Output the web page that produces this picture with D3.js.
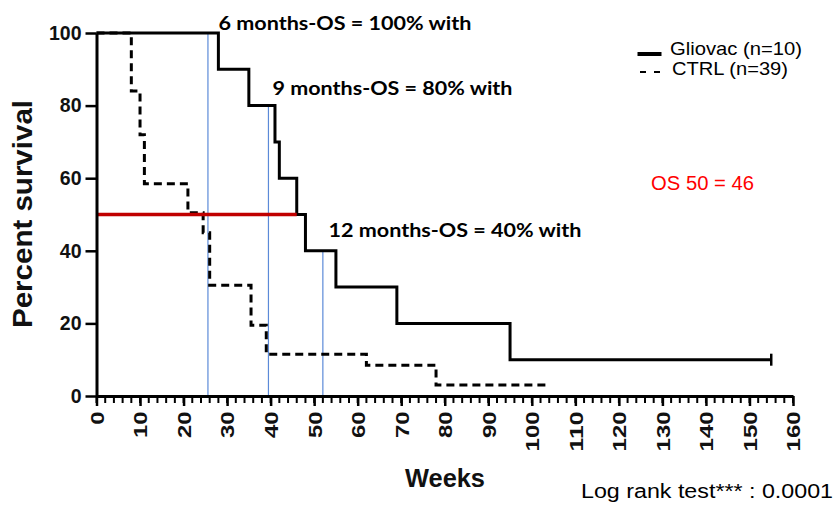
<!DOCTYPE html>
<html>
<head>
<meta charset="utf-8">
<script src="https://cdn.jsdelivr.net/npm/d3@7"></script>
<style>
  html, body { margin: 0; padding: 0; background: #fff; }
  svg { display: block; }
</style>
</head>
<body>
<svg id="chart" width="839" height="510"></svg>
<script>
// ---- data ----
const gliovacWeeks = [0, 28, 35, 41, 42, 46, 48, 55, 69, 95, 155];
const gliovacSurv  = [100, 90, 80, 70, 60, 50, 40, 30, 20, 10, 10];
const ctrlWeeks = [0, 8, 10, 11, 21, 24.5, 26, 35.5, 39, 62, 78, 104];
const ctrlSurv  = [100, 84, 72, 58.5, 50.5, 45, 30.5, 19.5, 11.5, 8.5, 3, 3];
const milestoneWeeks = [25.6, 39.5, 52];
const milestoneSurv  = [100, 80, 40];
const milestoneLabels = ["6 months-OS = 100% with", "9 months-OS = 80% with", "12 months-OS = 40% with"];
const medianWeek = 46;
const medianSurv = 50;
const yTicks = [0, 20, 40, 60, 80, 100];
const xTicks = d3.range(0, 161, 10);
const xMinorTicks = d3.range(0, 161, 2);
const legendLabels = ["Gliovac (n=10)", "CTRL (n=39)"];

// ---- drawing ----
const svg = d3.select("#chart");
const x = d3.scaleLinear().domain([0, 160]).range([96.5, 793]);
const y = d3.scaleLinear().domain([0, 100]).range([396, 33]);
const axisFont = "'Liberation Sans', Arial, sans-serif";

// blue milestone lines
svg.append("g").selectAll("line").data(milestoneWeeks).join("line")
  .attr("x1", d => x(d)).attr("x2", d => x(d))
  .attr("y1", (d, i) => y(milestoneSurv[i])).attr("y2", y(0))
  .attr("stroke", "#5b8ad8").attr("stroke-width", 1.2);

// curves
const line = d3.line().x(d => x(d[0])).y(d => y(d[1])).curve(d3.curveStepAfter);
svg.append("path")
  .datum(ctrlWeeks.map((w, i) => [w, ctrlSurv[i]]))
  .attr("d", line).attr("fill", "none").attr("stroke", "#000")
  .attr("stroke-width", 3).attr("stroke-dasharray", "8,5");
svg.append("path")
  .datum(gliovacWeeks.map((w, i) => [w, gliovacSurv[i]]))
  .attr("d", line).attr("fill", "none").attr("stroke", "#000")
  .attr("stroke-width", 3);
// censor tick
const lastW = gliovacWeeks[gliovacWeeks.length - 1];
const lastS = gliovacSurv[gliovacSurv.length - 1];
svg.append("line")
  .attr("x1", x(lastW)).attr("x2", x(lastW))
  .attr("y1", y(lastS) - 6).attr("y2", y(lastS) + 6)
  .attr("stroke", "#000").attr("stroke-width", 2.5);

// median red line
svg.append("line")
  .attr("x1", x(0)).attr("x2", x(medianWeek))
  .attr("y1", y(medianSurv)).attr("y2", y(medianSurv))
  .attr("stroke", "#c00000").attr("stroke-width", 3.4);

// y axis
const gy = svg.append("g").attr("transform", `translate(${x(0)},0)`)
  .call(d3.axisLeft(y).tickValues(yTicks).tickSize(11).tickSizeOuter(0).tickPadding(4));
gy.select(".domain").attr("stroke-width", 3).attr("stroke", "#000");
gy.selectAll(".tick line").attr("stroke-width", 2.5).attr("stroke", "#000");
gy.selectAll(".tick text")
  .attr("font-family", axisFont).attr("font-weight", "bold")
  .attr("font-size", 19.5).attr("fill", "#111");

// x axis minor ticks
svg.append("g").selectAll("line").data(xMinorTicks).join("line")
  .attr("x1", d => x(d)).attr("x2", d => x(d))
  .attr("y1", y(0)).attr("y2", y(0) + 7)
  .attr("stroke", "#000").attr("stroke-width", 2);

// x axis
const gx = svg.append("g").attr("transform", `translate(0,${y(0)})`)
  .call(d3.axisBottom(x).tickValues(xTicks).tickSize(10).tickSizeOuter(0));
gx.select(".domain").attr("stroke-width", 3).attr("stroke", "#000");
gx.selectAll(".tick line").attr("stroke-width", 2.5).attr("stroke", "#000");
gx.selectAll(".tick text")
  .attr("font-family", axisFont).attr("font-weight", "bold")
  .attr("font-size", 19).attr("fill", "#111")
  .attr("transform", "rotate(-90)")
  .attr("text-anchor", "end")
  .attr("x", -15.5).attr("y", 0).attr("dy", "0.36em")
  .attr("textLength", d => String(d).length * 13.3)
  .attr("lengthAdjust", "spacingAndGlyphs");

// axis titles
svg.append("text")
  .attr("transform", "translate(32,214) rotate(-90)")
  .attr("text-anchor", "middle")
  .attr("font-family", axisFont).attr("font-weight", "bold")
  .attr("font-size", 27).attr("fill", "#111")
  .attr("textLength", 228).attr("lengthAdjust", "spacingAndGlyphs")
  .text("Percent survival");
svg.append("text")
  .attr("x", 445).attr("y", 487)
  .attr("text-anchor", "middle")
  .attr("font-family", axisFont).attr("font-weight", "bold")
  .attr("font-size", 26).attr("fill", "#111")
  .attr("textLength", 80).attr("lengthAdjust", "spacingAndGlyphs")
  .text("Weeks");

// milestone annotations
const annX = [218.5, 272.5, 328.5];
const annY = [30, 95, 236.5];
const annW = [253, 240, 253];
svg.append("g").selectAll("text").data(milestoneLabels).join("text")
  .attr("x", (d, i) => annX[i]).attr("y", (d, i) => annY[i])
  .attr("font-family", "Lato, 'Open Sans', sans-serif").attr("font-weight", "bold")
  .attr("font-size", 19).attr("fill", "#000")
  .attr("textLength", (d, i) => annW[i]).attr("lengthAdjust", "spacingAndGlyphs")
  .text(d => d);

// legend
svg.append("line").attr("x1", 637.5).attr("x2", 661.5).attr("y1", 54).attr("y2", 54)
  .attr("stroke", "#000").attr("stroke-width", 4);
svg.append("line").attr("x1", 640).attr("x2", 661).attr("y1", 72).attr("y2", 72)
  .attr("stroke", "#000").attr("stroke-width", 1.8).attr("stroke-dasharray", "6,8");
svg.append("text").attr("x", 670).attr("y", 55)
  .attr("font-family", axisFont).attr("font-size", 18.5).attr("fill", "#000")
  .attr("textLength", 132).attr("lengthAdjust", "spacingAndGlyphs")
  .text(legendLabels[0]);
svg.append("text").attr("x", 672).attr("y", 74.5)
  .attr("font-family", axisFont).attr("font-size", 18.5).attr("fill", "#000")
  .attr("textLength", 116).attr("lengthAdjust", "spacingAndGlyphs")
  .text(legendLabels[1]);

// OS 50 label
svg.append("text").attr("x", 651).attr("y", 190)
  .attr("font-family", axisFont).attr("font-size", 19.5).attr("fill", "#ff0000")
  .attr("textLength", 103).attr("lengthAdjust", "spacingAndGlyphs")
  .text("OS 50 = " + medianWeek);

// log rank
svg.append("text").attr("x", 581).attr("y", 497.5)
  .attr("font-family", axisFont).attr("font-size", 19.5).attr("fill", "#000")
  .attr("textLength", 252).attr("lengthAdjust", "spacingAndGlyphs")
  .text("Log rank test*** : 0.0001");
</script>
</body>
</html>
